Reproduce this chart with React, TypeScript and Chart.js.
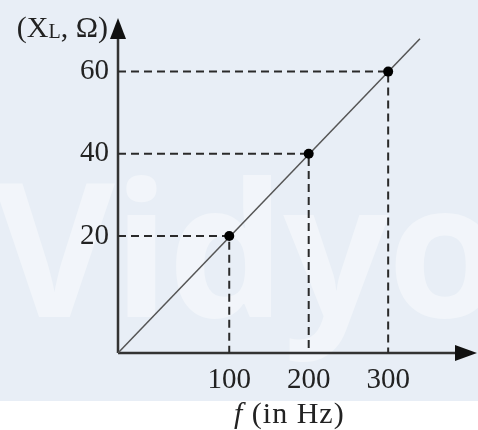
import React, { useEffect, useRef } from "react";
import { Chart, registerables } from "chart.js";

Chart.register(...registerables);

// Data
const pointsX = [100, 200, 300];
const pointsY = [20, 40, 60];
const lineX = [-40, 340];
const lineY = [-8.5, 68];
const xTickValues = [100, 200, 300];
const yTickValues = [20, 40, 60];
const xTitleItalic = "f";
const xTitleRest = " (in Hz)";
const yTitleParts = ["(X", "L", ", Ω)"];
const watermark = "Vidyo";

const X_MIN = -40;
const X_MAX = 403;
const Y_MIN = -8.5;
const Y_MAX = 71;

const W = 478;
const H = 430;
const SERIF = '"Liberation Serif", "Times New Roman", serif';

export default function App() {
  const ref = useRef<HTMLCanvasElement | null>(null);

  useEffect(() => {
    document.body.style.margin = "0";
    const canvas = ref.current;
    if (!canvas) return;

    const decor = {
      id: "decor",
      beforeDraw(chart: any) {
        const ctx = chart.ctx;
        ctx.save();
        ctx.fillStyle = "#ffffff";
        ctx.fillRect(0, 0, W, H);
        ctx.fillStyle = "#e8eef6";
        ctx.fillRect(0, 0, W, 401);
        // watermark
        ctx.font = 'bold 186px "Open Sans", sans-serif';
        ctx.fillStyle = "rgba(255,255,255,0.42)";
        ctx.textBaseline = "alphabetic";
        ctx.textAlign = "left";
        (ctx as any).letterSpacing = "-2px";
        ctx.fillText(watermark, -6, 317);
        ctx.restore();
      },
      beforeDatasetsDraw(chart: any) {
        const ctx = chart.ctx;
        const area = chart.chartArea;
        // axes with arrows
        ctx.save();
        ctx.strokeStyle = "#333333";
        ctx.fillStyle = "#111111";
        ctx.lineWidth = 2.5;
        ctx.beginPath();
        ctx.moveTo(area.left, area.bottom);
        ctx.lineTo(area.left, 30);
        ctx.moveTo(area.left, area.bottom);
        ctx.lineTo(465, area.bottom);
        ctx.stroke();
        // y arrow
        ctx.beginPath();
        ctx.moveTo(area.left, 18);
        ctx.lineTo(area.left - 8, 39);
        ctx.lineTo(area.left + 8, 39);
        ctx.closePath();
        ctx.fill();
        // x arrow
        ctx.beginPath();
        ctx.moveTo(477, area.bottom);
        ctx.lineTo(455, area.bottom - 8);
        ctx.lineTo(455, area.bottom + 8);
        ctx.closePath();
        ctx.fill();
        ctx.restore();
      },
      afterDraw(chart: any) {
        const ctx = chart.ctx;
        ctx.save();
        ctx.fillStyle = "#222222";
        ctx.textBaseline = "alphabetic";
        ctx.textAlign = "left";
        // y title
        const big = `30px ${SERIF}`;
        const small = `20px ${SERIF}`;
        ctx.font = big;
        const w0 = ctx.measureText(yTitleParts[0]).width;
        const w2 = ctx.measureText(yTitleParts[2]).width;
        ctx.font = small;
        const w1 = ctx.measureText(yTitleParts[1]).width;
        let x = 108 - (w0 + w1 + w2);
        const base = 37;
        ctx.font = big;
        ctx.fillText(yTitleParts[0], x, base);
        x += w0;
        ctx.font = small;
        ctx.fillText(yTitleParts[1], x, base + 1);
        x += w1;
        ctx.font = big;
        ctx.fillText(yTitleParts[2], x, base);

        // x title
        let tx = 234;
        (ctx as any).letterSpacing = "1px";
        ctx.font = `italic 30px ${SERIF}`;
        ctx.fillText(xTitleItalic, tx, 423);
        tx += ctx.measureText(xTitleItalic).width;
        ctx.font = big;
        ctx.fillText(xTitleRest, tx, 423);
        ctx.restore();
      },
    };

    const guides = pointsX.map((px, i) => ({
      type: "scatter" as const,
      data: [
        { x: X_MIN, y: pointsY[i] },
        { x: px, y: pointsY[i] },
        { x: px, y: Y_MIN },
      ],
      showLine: true,
      borderColor: "#2a2a2a",
      borderWidth: 2,
      borderDash: [8, 5],
      pointRadius: 0,
      fill: false,
      order: 3,
    }));

    const chart = new Chart(canvas, {
      type: "scatter",
      data: {
        datasets: [
          ...guides,
          {
            data: lineX.map((x, i) => ({ x, y: lineY[i] })),
            showLine: true,
            borderColor: "#555555",
            borderWidth: 1.5,
            pointRadius: 0,
            fill: false,
            order: 2,
          },
          {
            data: pointsX.map((x, i) => ({ x, y: pointsY[i] })),
            showLine: false,
            pointRadius: 5,
            pointBackgroundColor: "#000000",
            pointBorderColor: "#000000",
            pointBorderWidth: 0,
            order: 1,
          },
        ] as any,
      },
      options: {
        animation: false,
        responsive: false,
        devicePixelRatio: 1,
        clip: false as any,
        layout: { padding: { top: 22, right: 8, left: 0, bottom: 0 } },
        plugins: {
          legend: { display: false },
          tooltip: { enabled: false },
        },
        scales: {
          x: {
            type: "linear",
            min: X_MIN,
            max: X_MAX,
            grid: { display: false, drawTicks: false },
            border: { display: false },
            afterBuildTicks: (scale: any) => {
              scale.ticks = xTickValues.map((v) => ({ value: v }));
            },
            afterFit: (scale: any) => {
              scale.height = 77;
            },
            ticks: {
              autoSkip: false,
              maxRotation: 0,
              padding: 10,
              color: "#222222",
              font: { family: SERIF, size: 29 },
              callback: (v: any) => String(v),
            },
          },
          y: {
            type: "linear",
            min: Y_MIN,
            max: Y_MAX,
            grid: { display: false, drawTicks: false },
            border: { display: false },
            afterBuildTicks: (scale: any) => {
              scale.ticks = yTickValues.map((v) => ({ value: v }));
            },
            afterFit: (scale: any) => {
              scale.width = 118;
            },
            ticks: {
              autoSkip: false,
              padding: 9,
              color: "#222222",
              font: { family: SERIF, size: 29 },
              callback: (v: any) => String(v),
            },
          },
        },
      },
      plugins: [decor],
    });

    return () => chart.destroy();
  }, []);

  return (
    <div style={{ width: W, height: H }}>
      <canvas ref={ref} width={W} height={H} style={{ display: "block" }} />
    </div>
  );
}
